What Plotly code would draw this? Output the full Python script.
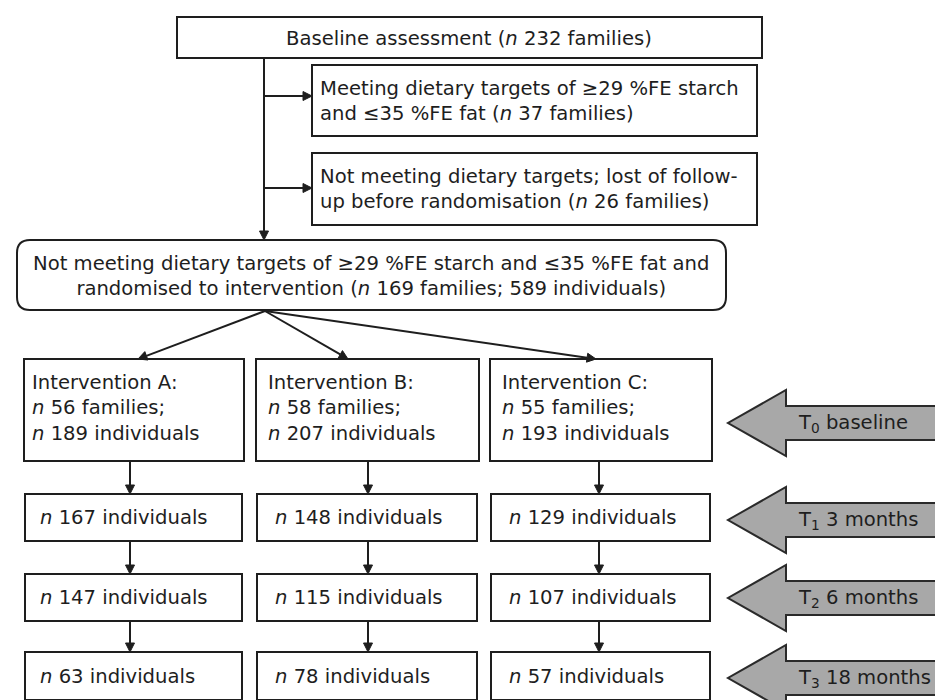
import math
import plotly.graph_objects as go

# ---------------- data ----------------
baseline_families = 232
meeting_targets_families = 37
lost_followup_families = 26
randomised_families = 169
randomised_individuals = 589
starch_target = 29
fat_target = 35

groups = ["A", "B", "C"]
group_families = [56, 58, 55]
individuals_T0 = [189, 207, 193]
individuals_T1 = [167, 148, 129]
individuals_T2 = [147, 115, 107]
individuals_T3 = [63, 78, 57]
timepoint_labels = ["T<sub>0</sub> baseline", "T<sub>1</sub> 3 months",
                    "T<sub>2</sub> 6 months", "T<sub>3</sub> 18 months"]

# ---------------- styling / layout ----------------
W, H = 943, 700
FONT = "DejaVu Sans"
FS = 19.6
INK = "#1e1e1e"
LW = 2

shapes = []
annotations = []


def rect(x0, y0, x1, y1):
    shapes.append(dict(type="rect", xref="x", yref="y", x0=x0, y0=y0, x1=x1, y1=y1,
                       line=dict(color=INK, width=LW), fillcolor="white", layer="below"))


def rounded(x0, y0, x1, y1, r):
    p = (f"M {x0+r},{y0} L {x1-r},{y0} Q {x1},{y0} {x1},{y0+r} L {x1},{y1-r} "
         f"Q {x1},{y1} {x1-r},{y1} L {x0+r},{y1} Q {x0},{y1} {x0},{y1-r} "
         f"L {x0},{y0+r} Q {x0},{y0} {x0+r},{y0} Z")
    shapes.append(dict(type="path", xref="x", yref="y", path=p,
                       line=dict(color=INK, width=LW), fillcolor="white", layer="below"))


def text(x, y, s, anchor="left"):
    annotations.append(dict(x=x, y=y, xref="x", yref="y", text=s, showarrow=False,
                            xanchor=anchor, yanchor="middle", align=anchor,
                            borderpad=0, borderwidth=0,
                            font=dict(family=FONT, size=FS, color=INK)))


def arrow(x0, y0, x1, y1, hl=9, hw=4.5):
    dx, dy = x1 - x0, y1 - y0
    L = math.hypot(dx, dy)
    ux, uy = dx / L, dy / L
    bx, by = x1 - ux * hl, y1 - uy * hl
    px, py = -uy, ux
    shapes.append(dict(type="line", xref="x", yref="y", x0=x0, y0=y0, x1=bx, y1=by,
                       line=dict(color=INK, width=LW)))
    p = (f"M {x1},{y1} L {bx+px*hw},{by+py*hw} L {bx-px*hw},{by-py*hw} Z")
    shapes.append(dict(type="path", xref="x", yref="y", path=p,
                       line=dict(color=INK, width=1), fillcolor=INK))


def big_arrow(cy, tip=720, back=778, hh=33, sh=17):
    p = (f"M 970,{cy-sh} L {back},{cy-sh} L {back},{cy-hh} L {tip},{cy} "
         f"L {back},{cy+hh} L {back},{cy+sh} L 970,{cy+sh} Z")
    shapes.append(dict(type="path", xref="x", yref="y", path=p,
                       line=dict(color="#2a2a2a", width=LW), fillcolor="#a8a8a8"))


# ---- top section ----
rect(169, 9, 754, 50)
text(461, 30, f"Baseline assessment (<i>n</i> {baseline_families} families)", "center")

rect(304, 57, 749, 128)
text(312, 93, f"Meeting dietary targets of ≥{starch_target} %FE starch<br>"
              f"and ≤{fat_target} %FE fat (<i>n</i> {meeting_targets_families} families)")

rect(304, 145, 749, 217)
text(312, 181, f"Not meeting dietary targets; lost of follow-<br>"
               f"up before randomisation (<i>n</i> {lost_followup_families} families)")

arrow(256, 50, 256, 232)
arrow(256, 88, 304, 88)
arrow(256, 180, 304, 180)

rounded(9, 232, 718, 302, 13)
text(363, 268, f"Not meeting dietary targets of ≥{starch_target} %FE starch and ≤{fat_target} %FE fat and<br>"
               f"randomised to intervention (<i>n</i> {randomised_families} families; "
               f"{randomised_individuals} individuals)", "center")

# ---- group columns ----
col_x0 = [16, 248, 482]
col_x1 = [236, 471, 704]
col_text_top = [24, 260, 494]
col_text_low = [32, 267, 501]
col_arrow_x = [122, 360, 591]
fan_tip_x = [130, 340, 588]

for i, g in enumerate(groups):
    arrow(257, 303, fan_tip_x[i], 351)
    rect(col_x0[i], 351, col_x1[i], 453)
    text(col_text_top[i], 400, f"Intervention {g}:<br><i>n</i> {group_families[i]} families;<br>"
                               f"<i>n</i> {individuals_T0[i]} individuals")

row_y = [(486, 533), (566, 613), (644, 692)]
row_vals = [individuals_T1, individuals_T2, individuals_T3]
prev_bottom = 453
for (y0, y1), vals in zip(row_y, row_vals):
    for i in range(3):
        arrow(col_arrow_x[i], prev_bottom, col_arrow_x[i], y0)
        rect(col_x0[i] + 1, y0, col_x1[i] - 2, y1)
        text(col_text_low[i], (y0 + y1) / 2, f"<i>n</i> {vals[i]} individuals")
    prev_bottom = y1

# ---- time point arrows ----
tp_y = [415, 512, 590, 670]
for cy, lab in zip(tp_y, timepoint_labels):
    big_arrow(cy)
    text(790, cy, lab)

fig = go.Figure()
fig.update_layout(
    width=W, height=H,
    margin=dict(l=0, r=0, t=0, b=0),
    paper_bgcolor="white", plot_bgcolor="white",
    xaxis=dict(range=[0, W], visible=False, fixedrange=True),
    yaxis=dict(range=[H, 0], visible=False, fixedrange=True),
    shapes=shapes, annotations=annotations, showlegend=False,
)
fig.write_html("out.html")
